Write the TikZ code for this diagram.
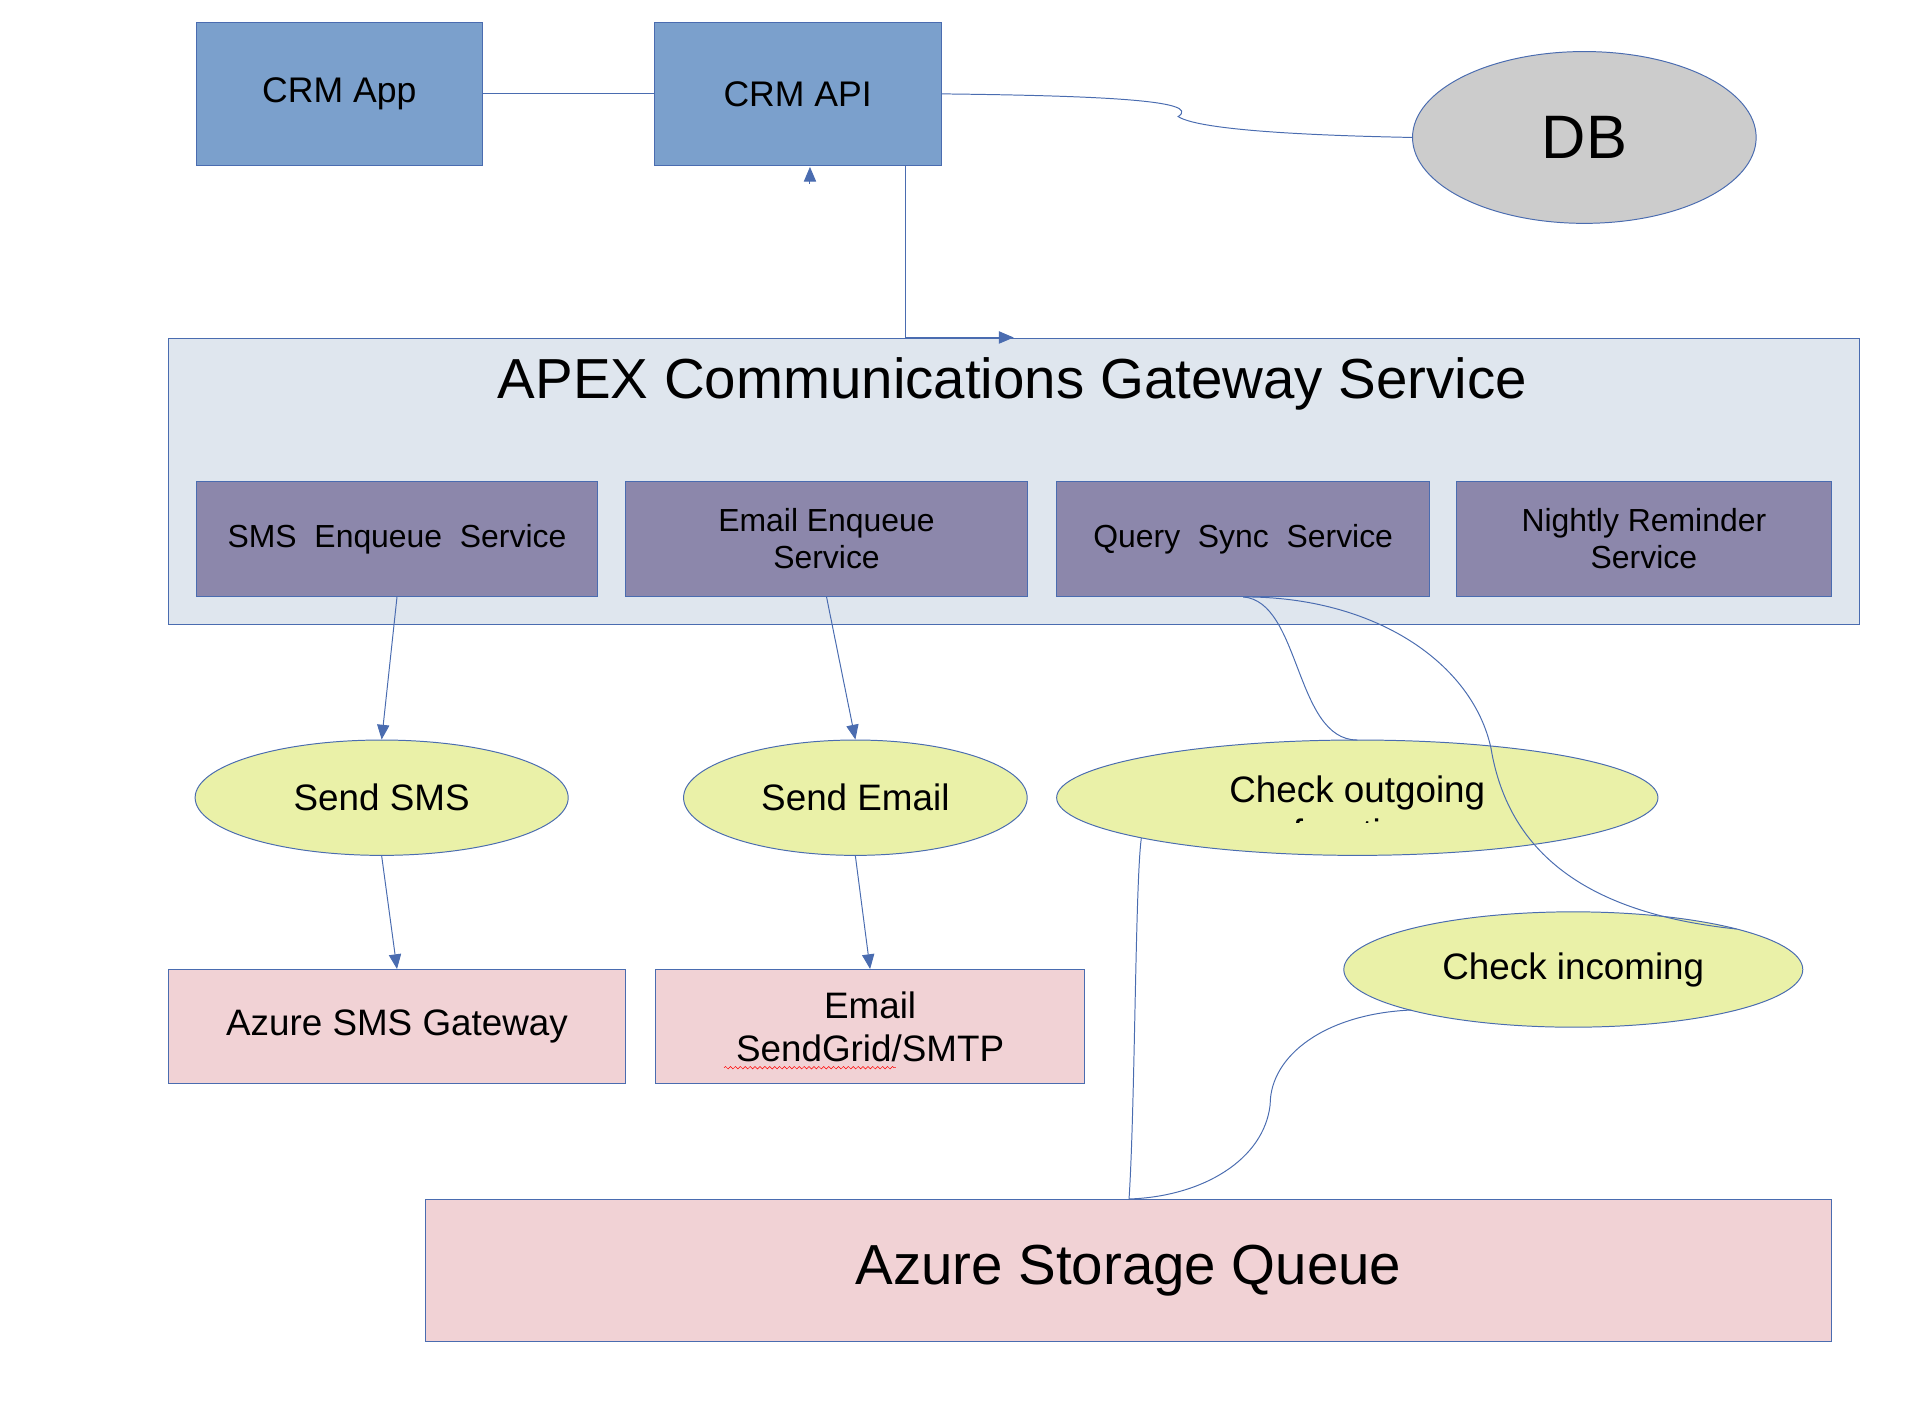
\documentclass[tikz,border=0pt]{standalone}
\usepackage{fontspec}
\setmainfont{Liberation Sans}
\usetikzlibrary{arrows.meta,shapes.geometric,decorations.pathmorphing}
\definecolor{crmblue}{HTML}{7BA0CC}
\definecolor{svcpurple}{HTML}{8C87AB}
\definecolor{gwgray}{HTML}{DFE6EE}
\definecolor{extpink}{HTML}{F1D2D5}
\definecolor{funcyellow}{HTML}{EAF1A8}
\definecolor{linkblue}{HTML}{4A6CB0}
\newcommand{\fs}[1]{\fontsize{#1}{\the\numexpr#1*115/100\relax}\selectfont}

\begin{document}
\begin{tikzpicture}[x=1pt,y=-1pt,
  box/.style={draw=linkblue,line width=0.8pt,inner sep=0pt},
  crm/.style={box,fill=crmblue,font=\fs{29}},
  svc/.style={box,fill=svcpurple,font=\fs{26},align=center},
  ext/.style={box,fill=extpink,font=\fs{30},align=center},
  func/.style={draw=linkblue,line width=0.8pt,ellipse,fill=funcyellow,inner sep=0pt,font=\fs{30}},
  link/.style={draw=linkblue,line width=0.8pt},
  arr/.style={link,-{Triangle[length=12pt,width=10pt]}}]
  \useasboundingbox (0,0) rectangle (1558,1141);

  \node[crm,minimum width=233,minimum height=117] (crmapp) at (276.5,76.5) {CRM App};
  \node[crm,minimum width=234,minimum height=117] (crmapi) at (650,76.5) {CRM API};
  \node[draw=linkblue,line width=0.8pt,ellipse,fill=black!20,minimum width=280,minimum height=140,font=\fs{50}] (db) at (1291,112) {DB};

  \node[box,fill=gwgray,minimum width=1378,minimum height=233] (gw) at (826,392.5) {};
  \node[font=\fs{46}] (gwtitle) at (825,313) {APEX Communications Gateway Service};
  \node[svc,minimum width=327,minimum height=94] (sms) at (323.5,439) {SMS~ Enqueue~ Service};
  \node[svc,minimum width=327,minimum height=94] (email) at (673.5,439) {Email Enqueue\\Service};
  \node[svc,minimum width=304,minimum height=94] (query) at (1013,439) {Query~ Sync~ Service};
  \node[svc,minimum width=305,minimum height=94] (nightly) at (1339.5,439) {Nightly Reminder\\Service};

  \node[func,minimum width=304,minimum height=94] (sendsms) at (311,650) {Send SMS};
  \node[func,minimum width=280,minimum height=94] (sendemail) at (697,650) {Send Email};
  \node[func,minimum width=490,minimum height=94] (outgoing) at (1106,650) {};
  \begin{scope}
    \clip (900,610) rectangle (1300,670);
    \node[font=\fs{30},align=center] (outtext) at (1106,661) {Check outgoing\\function};
  \end{scope}
  \node[func,minimum width=374,minimum height=94] (incoming) at (1282,790) {Check incoming};

  \node[ext,minimum width=373,minimum height=93] (smsgw) at (323.5,836.5) {Azure SMS Gateway};
  \node[ext,minimum width=350,minimum height=93] (sendgrid) at (709,836.5) {Email\\SendGrid/SMTP};
  \draw[red,decorate,decoration={snake,amplitude=1pt,segment length=4pt}] (590,870) -- (730,870);
  \node[box,fill=extpink,minimum width=1145,minimum height=116,font=\fs{46}] (queue) at (919.5,1035) {Azure Storage Queue};

  % connectors
  \draw[link] (crmapp.east) -- (crmapi.west);
  \draw[link] (crmapi.east) .. controls (900,78) and (980,82) .. (960,95)
    .. controls (980,108) and (1100,111) .. (db.west);
  \coordinate (apifoot) at (738,135);
  \draw[arr] (apifoot) -- (738,275) -- (826,275);
  \coordinate (apitip) at (660,150);
  \draw[arr] (apitip) -- (660,136);
  \draw[arr] (sms.south) -- (sendsms.north);
  \draw[arr] (sendsms.south) -- (smsgw.north);
  \draw[arr] (email.south) -- (sendemail.north);
  \draw[arr] (sendemail.south) -- (sendgrid.north);
  \draw[link] (query.south) .. controls (1060,490) and (1055,603) .. (1106,603);
  \draw[link] (query.south) .. controls (1120,486) and (1200,540) .. (1215,610)
    .. controls (1230,700) and (1300,745) .. (1415,757);
  \coordinate (queuetop) at (920,977);
  \draw[link] (930,683) .. controls (925,720) and (925,900) .. (queuetop);
  \draw[link] (1150,823) .. controls (1080,826) and (1035,860) .. (1035,900)
    .. controls (1030,945) and (980,975) .. (queuetop);
\end{tikzpicture}
\end{document}
